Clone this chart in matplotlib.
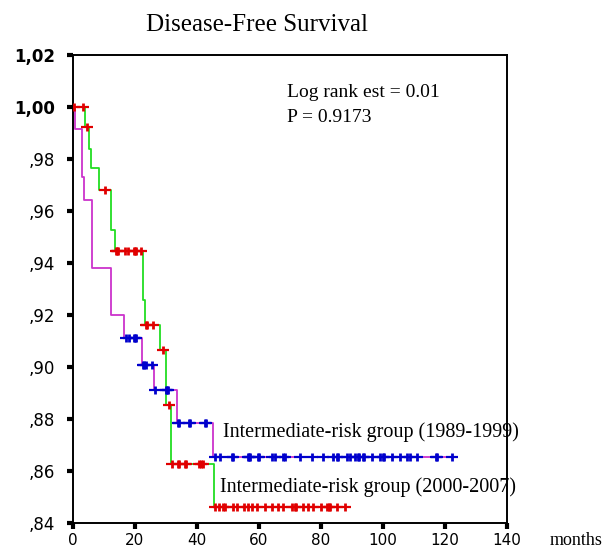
import numpy as np
import matplotlib
matplotlib.use("Agg")
import matplotlib.pyplot as plt

# ---- data ----
# Group 1989-1999 (magenta line, blue censor marks)
times_a = [0, 0.6, 2.8, 3.5, 6.2, 12.2, 16.6, 22.2, 26.1, 33.5, 45.1]
surv_a = [1.0, 0.9915, 0.9732, 0.9642, 0.938, 0.920, 0.9113, 0.9008, 0.8912, 0.8783, 0.8653]
censor_a = [17.0, 18.0, 19.6, 20.0, 20.4,
            22.6, 23.0, 23.4, 25.4,
            26.5, 29.9, 30.2, 30.5,
            33.9, 34.2, 37.5, 37.8, 42.6, 42.9,
            45.8, 47.4, 51.3, 51.7, 56.4, 56.8, 57.2, 59.6, 60.0, 64.1, 65.2,
            67.8, 68.4, 73.2, 77.0, 80.7, 84.0, 85.2, 85.6, 88.3, 89.4, 91.0,
            91.8, 92.2, 93.5, 93.9, 96.3, 99.0, 99.9, 100.3, 102.8, 105.5,
            107.6, 108.7, 110.9, 117.1, 117.5, 122.2]

# Group 2000-2007 (green line, red censor marks)
times_b = [0, 4.0, 5.2, 5.7, 8.4, 12.2, 13.5, 22.6, 23.1, 28.1, 30.0, 31.6, 45.5]
surv_b = [1.0, 0.9922, 0.984, 0.9764, 0.968, 0.9527, 0.9447, 0.9258, 0.9162,
          0.9065, 0.8854, 0.8626, 0.8463]
censor_b = [0.3, 3.1, 4.4, 10.3,
            13.8, 14.2, 14.6, 16.8, 17.7, 19.7, 20.0, 20.3, 22.0,
            23.6, 24.0, 25.9, 29.1, 30.9,
            31.9, 33.8, 34.2, 36.2, 36.6, 40.8, 41.3, 41.8,
            45.8, 47.0, 48.5, 49.0, 51.7, 53.0, 55.0, 56.5, 57.6, 59.3, 62.0,
            64.2, 66.0, 67.7, 70.5, 71.6, 72.0, 74.3, 75.9, 77.5, 80.0, 82.0,
            82.6, 83.0, 85.1, 87.7]

x_ticks = [0, 20, 40, 60, 80, 100, 120, 140]
y_ticks = [0.84, 0.86, 0.88, 0.90, 0.92, 0.94, 0.96, 0.98, 1.00, 1.02]
y_labels = [",84", ",86", ",88", ",90", ",92", ",94", ",96", ",98", "1,00", "1,02"]

title = "Disease-Free Survival"
label_a = "Intermediate-risk group (1989-1999)"
label_b = "Intermediate-risk group (2000-2007)"
stats_1 = "Log rank est = 0.01"
stats_2 = "P = 0.9173"

# ---- plotting ----
SERIF = ["Liberation Serif", "DejaVu Serif"]
fig = plt.figure(figsize=(6.06, 5.5), dpi=100)
ax = fig.add_axes([73 / 606, 27 / 550, 434 / 606, 468 / 550])


def step_value(times, surv, t):
    idx = np.searchsorted(np.asarray(times), t, side="right") - 1
    return np.asarray(surv)[idx]


def draw_group(times, surv, censor, line_col, mark_col):
    t_end = max(censor)
    xs = list(times) + [t_end]
    ys = list(surv) + [surv[-1]]
    ax.step(xs, ys, where="post", color=line_col, lw=1.3, zorder=2)
    cy = [step_value(times, surv, t) for t in censor]
    ax.plot(censor, cy, ls="none", marker="_", ms=9, mew=1.6, color=mark_col, zorder=3)
    ax.plot(censor, cy, ls="none", marker="|", ms=5.5, mew=2.0, color=mark_col, zorder=3)


draw_group(times_b, surv_b, censor_b, "#22dd22", "#e00000")
draw_group(times_a, surv_a, censor_a, "#cc33cc", "#0000cc")

ax.set_xlim(0, 140)
ax.set_ylim(0.84, 1.02)
ax.set_xticks(x_ticks)
ax.set_xticklabels([str(v) for v in x_ticks], fontsize=11, family="DejaVu Sans")
ax.set_yticks(y_ticks)
ax.set_yticklabels(y_labels, fontsize=12, family="DejaVu Sans")
for lab in ax.get_yticklabels():
    if lab.get_text().startswith("1"):
        lab.set_fontweight("bold")
ax.tick_params(axis="both", direction="out", length=4, width=3, color="black")
ax.tick_params(axis="y", pad=9)
ax.tick_params(axis="x", pad=3)
for sp in ax.spines.values():
    sp.set_linewidth(1.4)
    sp.set_color("black")

fig.text(257 / 606, 1 - 25 / 550, title, ha="center", va="center", fontsize=18, family=SERIF)
ax.text(69, 1.02 - (93 - 55) / 2600, stats_1, ha="left", va="center", fontsize=14, family=SERIF)
ax.text(69, 1.02 - (118 - 55) / 2600, stats_2, ha="left", va="center", fontsize=14, family=SERIF)
ax.text(48.4, 0.875, label_a, ha="left", va="center", fontsize=14.5, family=SERIF)
ax.text(47.4, 0.8538, label_b, ha="left", va="center", fontsize=14.5, family=SERIF)
fig.text(576 / 606, 1 - 545 / 550, "months", ha="center", va="baseline", fontsize=13, family=SERIF)

fig.savefig("out.png", dpi=100)
